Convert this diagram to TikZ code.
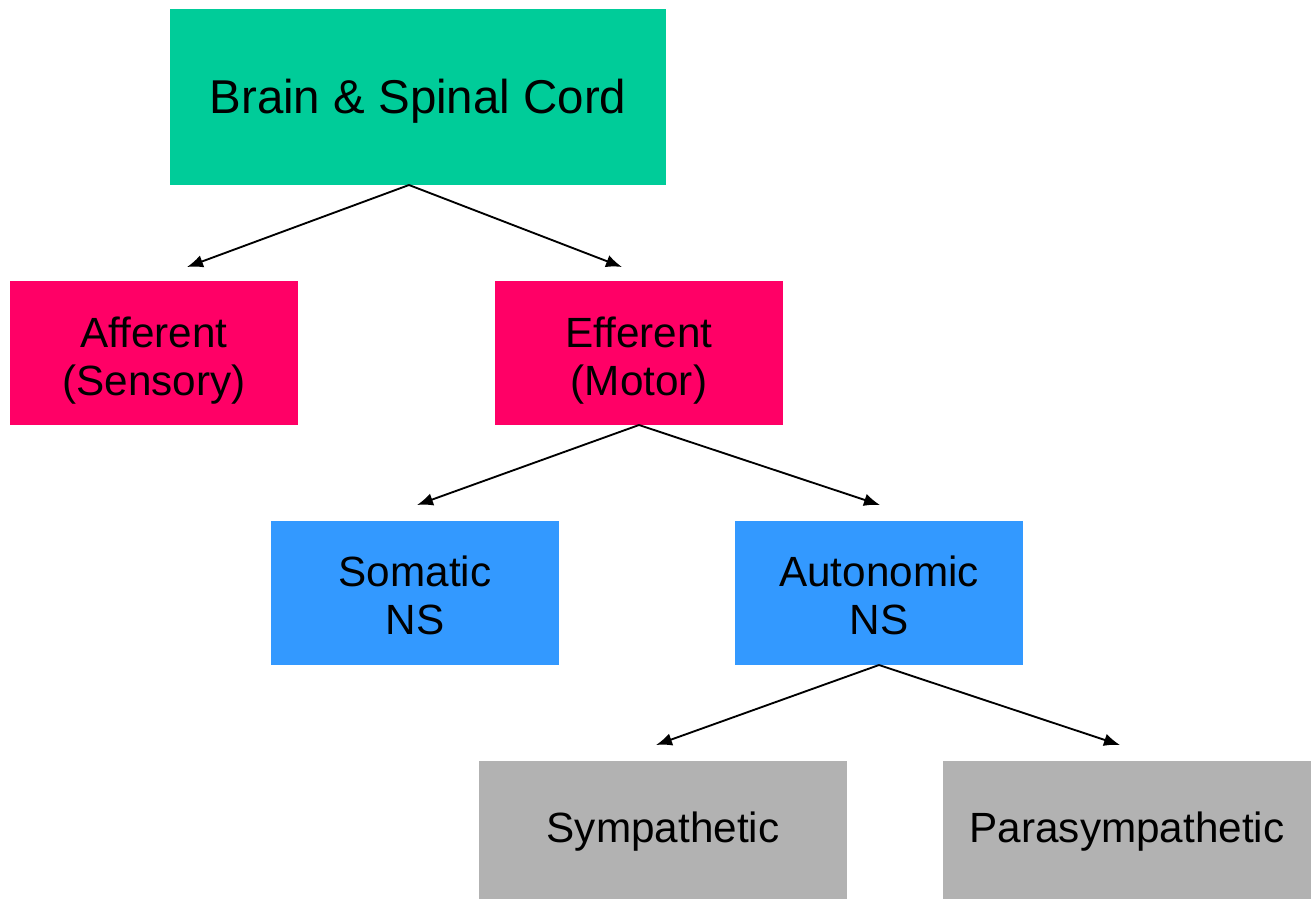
\documentclass[tikz,border=0pt]{standalone}
\usepackage{fontspec}
\setmainfont{Liberation Sans}
\usetikzlibrary{arrows.meta}
\definecolor{cgreen}{HTML}{00CC99}
\definecolor{cpink}{HTML}{FF0066}
\definecolor{cblue}{HTML}{3399FF}
\definecolor{cgray}{HTML}{B2B2B2}
\tikzset{
  box/.style={inner sep=0pt, outer sep=0pt},
  txt/.style={inner sep=0pt, outer sep=0pt, align=center, font=\fontsize{31.7pt}{36pt}\selectfont},
  conn/.style={line width=1.4pt, -{Latex[length=12pt,width=9.5pt]}}
}
\begin{document}
\begin{tikzpicture}[x=0.75pt,y=-0.75pt]
\useasboundingbox (0,0) rectangle (1314,900);
\node[box, fill=cgreen, minimum width=372pt, minimum height=132pt,
  label={[name=brain-t, txt, font=\fontsize{35.6pt}{40pt}\selectfont, yshift=-2.8pt]center:Brain \& Spinal Cord}] (brain) at (418,97) {};
\node[box, fill=cpink, minimum width=216pt, minimum height=108pt,
  label={[name=aff-t, txt, yshift=-6pt]center:Afferent\\(Sensory)}] (aff) at (154,353) {};
\node[box, fill=cpink, minimum width=216pt, minimum height=108pt,
  label={[name=eff-t, txt, yshift=-6pt]center:Efferent\\(Motor)}] (eff) at (639,353) {};
\node[box, fill=cblue, minimum width=216pt, minimum height=108pt,
  label={[name=som-t, txt, yshift=-2pt]center:Somatic\\NS}] (som) at (415,593) {};
\node[box, fill=cblue, minimum width=216pt, minimum height=108pt,
  label={[name=aut-t, txt, yshift=-2pt]center:Autonomic\\NS}] (aut) at (879,593) {};
\node[box, fill=cgray, minimum width=276pt, minimum height=103.5pt,
  label={[name=sym-t, txt, yshift=-1.5pt]center:Sympathetic}] (sym) at (663,830) {};
\node[box, fill=cgray, minimum width=276pt, minimum height=103.5pt,
  label={[name=para-t, txt, yshift=-1.5pt]center:Parasympathetic}] (para) at (1127,830) {};
\coordinate (bs) at (409,185);
\coordinate (es) at (639,425);
\coordinate (as) at (879,665);
\coordinate (t1) at (187,267);
\coordinate (t2) at (622,267);
\coordinate (t3) at (417,505);
\coordinate (t4) at (880,505);
\coordinate (t5) at (656,745);
\coordinate (t6) at (1120,745);
\draw[conn] (bs) -- (t1);
\draw[conn] (bs) -- (t2);
\draw[conn] (es) -- (t3);
\draw[conn] (es) -- (t4);
\draw[conn] (as) -- (t5);
\draw[conn] (as) -- (t6);
\end{tikzpicture}
\end{document}
